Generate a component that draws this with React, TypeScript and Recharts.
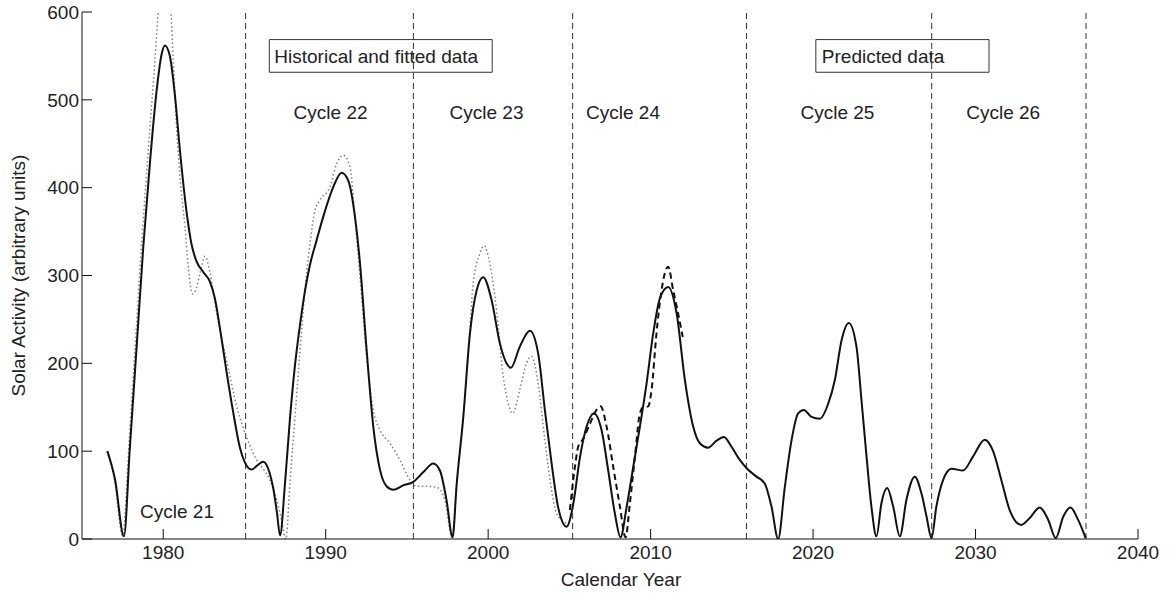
import React from 'react';
import { LineChart, Line, XAxis, YAxis, ReferenceLine, ReferenceArea, ReferenceDot } from 'recharts';

const FONT = '"Liberation Sans", Arial, Helvetica, sans-serif';
const FS = 19;

// Fitted / predicted solar activity (solid line)
const fittedSeries: [number, number][] = [
  [1976.56, 100], [1977.03, 68], [1977.58, 3], [1977.95, 105], [1978.36, 218], [1978.77, 332],
  [1979.18, 428], [1979.59, 510], [1979.9, 552], [1980.1, 562], [1980.41, 550], [1980.72, 505],
  [1981.03, 442], [1981.44, 372], [1981.75, 335], [1982.05, 316], [1982.46, 304], [1982.87, 293],
  [1983.18, 274], [1983.49, 240], [1983.9, 190], [1984.31, 144], [1984.72, 104], [1985.03, 87],
  [1985.44, 79], [1985.8, 84], [1986.16, 88], [1986.5, 78], [1986.77, 58], [1987.0, 30], [1987.19, 4],
  [1987.49, 62], [1987.8, 137], [1988.11, 198], [1988.42, 244], [1988.72, 282], [1989.03, 312],
  [1989.44, 340], [1989.85, 367], [1990.47, 401], [1990.98, 417], [1991.39, 408], [1991.8, 367],
  [1992.11, 314], [1992.52, 215], [1992.93, 128], [1993.34, 79], [1993.75, 60], [1994.16, 56],
  [1994.77, 61], [1995.39, 65], [1996.0, 76], [1996.62, 86], [1997.03, 78], [1997.44, 44], [1997.81, 2],
  [1998.06, 62], [1998.47, 139], [1998.88, 234], [1999.29, 283], [1999.7, 298], [2000.21, 272],
  [2000.72, 223], [2001.13, 200], [2001.4, 195], [2001.95, 219], [2002.57, 237], [2003.08, 211],
  [2003.49, 147], [2003.9, 87], [2004.31, 36], [2004.83, 14], [2005.24, 40], [2005.65, 93],
  [2006.06, 128], [2006.51, 143], [2006.98, 124], [2007.39, 78], [2007.8, 29], [2008.15, 2],
  [2008.52, 36], [2008.93, 82], [2009.34, 128], [2009.75, 177], [2010.16, 234], [2010.57, 274],
  [2011.08, 287], [2011.6, 257], [2012.11, 181], [2012.62, 128], [2013.03, 109], [2013.54, 104],
  [2014.06, 112], [2014.51, 116], [2014.98, 105], [2015.49, 90], [2015.94, 80], [2016.52, 71],
  [2017.03, 63], [2017.44, 37], [2017.85, 0], [2018.26, 59], [2018.67, 112], [2019.08, 143],
  [2019.43, 147], [2019.9, 139], [2020.42, 137], [2020.93, 154], [2021.34, 181], [2021.75, 226],
  [2022.2, 246], [2022.67, 219], [2022.98, 158], [2023.29, 94], [2023.59, 37], [2023.9, 3],
  [2024.21, 41], [2024.56, 58], [2024.93, 37], [2025.34, 3], [2025.75, 45], [2026.26, 71],
  [2026.67, 52], [2026.98, 26], [2027.29, 1], [2027.59, 37], [2028.0, 67], [2028.52, 80],
  [2029.23, 78], [2029.85, 94], [2030.57, 113], [2031.08, 100], [2031.59, 67], [2032.1, 33],
  [2032.82, 16], [2033.34, 24], [2033.95, 36], [2034.47, 22], [2034.94, 1], [2035.39, 25],
  [2035.84, 36], [2036.31, 22], [2036.78, 1],
];

// Historical observed activity (dotted grey line)
const historicalSeries: [number, number][] = [
  [1976.56, 100], [1977.0, 68], [1977.5, 4], [1977.9, 110], [1978.3, 228], [1978.7, 345],
  [1979.1, 448], [1979.49, 545], [1979.7, 602], [1980.1, 660], [1980.47, 602], [1980.62, 545],
  [1980.82, 469], [1981.03, 412], [1981.34, 355], [1981.54, 310], [1981.8, 279], [1981.97, 282],
  [1982.26, 302], [1982.57, 322], [1982.87, 304], [1983.28, 258], [1983.7, 220], [1984.1, 186],
  [1984.5, 152], [1984.9, 128], [1985.3, 108], [1985.75, 90], [1986.15, 80], [1986.57, 67],
  [1986.98, 45], [1987.28, 22], [1987.55, 0], [1987.8, 64], [1988.11, 139], [1988.42, 215],
  [1988.72, 283], [1989.03, 336], [1989.34, 374], [1989.65, 386], [1990.26, 401], [1990.67, 427],
  [1991.08, 437], [1991.49, 424], [1991.8, 367], [1992.11, 299], [1992.52, 208], [1992.93, 147],
  [1993.34, 124], [1993.95, 109], [1994.57, 90], [1995.19, 67], [1995.6, 60], [1996.2, 60],
  [1996.83, 59], [1997.34, 44], [1997.78, 2], [1998.06, 60], [1998.47, 139], [1998.88, 240],
  [1999.08, 291], [1999.49, 325], [1999.75, 334], [2000.11, 313], [2000.52, 260], [2000.93, 185],
  [2001.24, 154], [2001.5, 143], [2001.95, 170], [2002.36, 200], [2002.67, 208], [2003.08, 177],
  [2003.49, 113], [2003.9, 56], [2004.21, 29], [2004.52, 22], [2004.8, 18],
];

// Recent observed activity (dashed line)
const recentSeries: [number, number][] = [
  [2005.03, 33], [2005.34, 82], [2005.54, 105], [2005.85, 114], [2006.26, 131], [2006.67, 147],
  [2006.92, 151], [2007.29, 128], [2007.7, 82], [2008.11, 37], [2008.46, 2], [2008.72, 40],
  [2009.03, 93], [2009.34, 143], [2009.54, 150], [2009.85, 151], [2010.06, 170], [2010.36, 234],
  [2010.67, 283], [2011.08, 310], [2011.39, 283], [2011.6, 265], [2011.98, 230],
];

const xTicks = [1980, 1990, 2000, 2010, 2020, 2030, 2040];
const yTicks = [0, 100, 200, 300, 400, 500, 600];
const cycleBoundaries = [1985.07, 1995.4, 2005.2, 2015.9, 2027.3, 2036.8];
const cycleNames = ['Cycle 21', 'Cycle 22', 'Cycle 23', 'Cycle 24', 'Cycle 25', 'Cycle 26'];
const cycleLabelYears = [1980.85, 1990.3, 1999.9, 2008.3, 2021.5, 2031.7];
const cycleLabelValues = [32, 486, 486, 486, 486, 486];

const toPoints = (pairs: [number, number][]) => pairs.map(([year, value]) => ({ year, value }));

const fittedData = toPoints(fittedSeries);
const historicalData = toPoints(historicalSeries);
const recentData = toPoints(recentSeries);

export default function App() {
  const tickStyle = { fontSize: FS, fill: '#222', fontFamily: FONT };
  return (
    <div style={{ position: 'absolute', left: 0, top: 0, width: 1169, height: 593, background: '#fff' }}>
      <LineChart
        width={1169}
        height={593}
        margin={{ top: 12, right: 31, bottom: 0, left: 0 }}
        style={{ fontFamily: FONT }}
      >
        <XAxis
          dataKey="year"
          type="number"
          domain={[1975, 2040]}
          ticks={xTicks}
          allowDataOverflow
          height={54}
          tickSize={-10}
          tickMargin={17}
          tick={tickStyle}
          stroke="#111"
          label={{ value: 'Calendar Year', position: 'insideBottom', offset: 7, dx: 11, fontSize: FS, fill: '#222', fontFamily: FONT }}
        />
        <XAxis
          xAxisId="top"
          orientation="top"
          dataKey="year"
          type="number"
          domain={[1975, 2040]}
          ticks={xTicks}
          allowDataOverflow
          height={0}
          tickSize={-10}
          tick={false}
          stroke="#111"
        />
        <YAxis
          type="number"
          domain={[0, 600]}
          ticks={yTicks}
          allowDataOverflow
          width={82}
          tickSize={-10}
          tickMargin={13}
          tick={tickStyle}
          stroke="#111"
          label={{
            value: 'Solar Activity (arbitrary units)',
            angle: -90,
            position: 'insideLeft',
            offset: 18,
            fontSize: FS,
            fill: '#222',
            fontFamily: FONT,
            style: { textAnchor: 'middle' },
          }}
        />
        <YAxis
          yAxisId="right"
          orientation="right"
          type="number"
          domain={[0, 600]}
          ticks={yTicks}
          allowDataOverflow
          width={0}
          tickSize={-10}
          tick={false}
          stroke="#111"
        />
        {cycleBoundaries.map((b) => (
          <ReferenceLine key={b} x={b} stroke="#333" strokeDasharray="6 4" strokeWidth={1} />
        ))}
        <ReferenceArea
          x1={1986.53}
          x2={2000.25}
          y1={531.4}
          y2={568.6}
          fill="#fff"
          fillOpacity={0}
          stroke="#333"
          strokeOpacity={1}
          strokeWidth={1}
          label={{ value: 'Historical and fitted data', position: 'insideLeft', offset: 5, fontSize: FS, fill: '#222', fontFamily: FONT }}
        />
        <ReferenceArea
          x1={2020.17}
          x2={2030.83}
          y1={531.4}
          y2={568.6}
          fill="#fff"
          fillOpacity={0}
          stroke="#333"
          strokeOpacity={1}
          strokeWidth={1}
          label={{ value: 'Predicted data', position: 'insideLeft', offset: 6, fontSize: FS, fill: '#222', fontFamily: FONT }}
        />
        {cycleNames.map((name, i) => (
          <ReferenceDot
            key={name}
            x={cycleLabelYears[i]}
            y={cycleLabelValues[i]}
            r={1}
            fill="none"
            stroke="none"
            label={{ value: name, position: 'center', fontSize: FS, fill: '#222', fontFamily: FONT }}
          />
        ))}
        <Line
          data={historicalData}
          dataKey="value"
          type="monotone"
          stroke="#808080"
          strokeWidth={1.5}
          strokeDasharray="1.5 2.5"
          dot={false}
          isAnimationActive={false}
        />
        <Line
          data={recentData}
          dataKey="value"
          type="monotone"
          stroke="#111"
          strokeWidth={2}
          strokeDasharray="6 4"
          dot={false}
          isAnimationActive={false}
        />
        <Line
          data={fittedData}
          dataKey="value"
          type="monotone"
          stroke="#111"
          strokeWidth={2}
          dot={false}
          isAnimationActive={false}
        />
      </LineChart>
    </div>
  );
}
